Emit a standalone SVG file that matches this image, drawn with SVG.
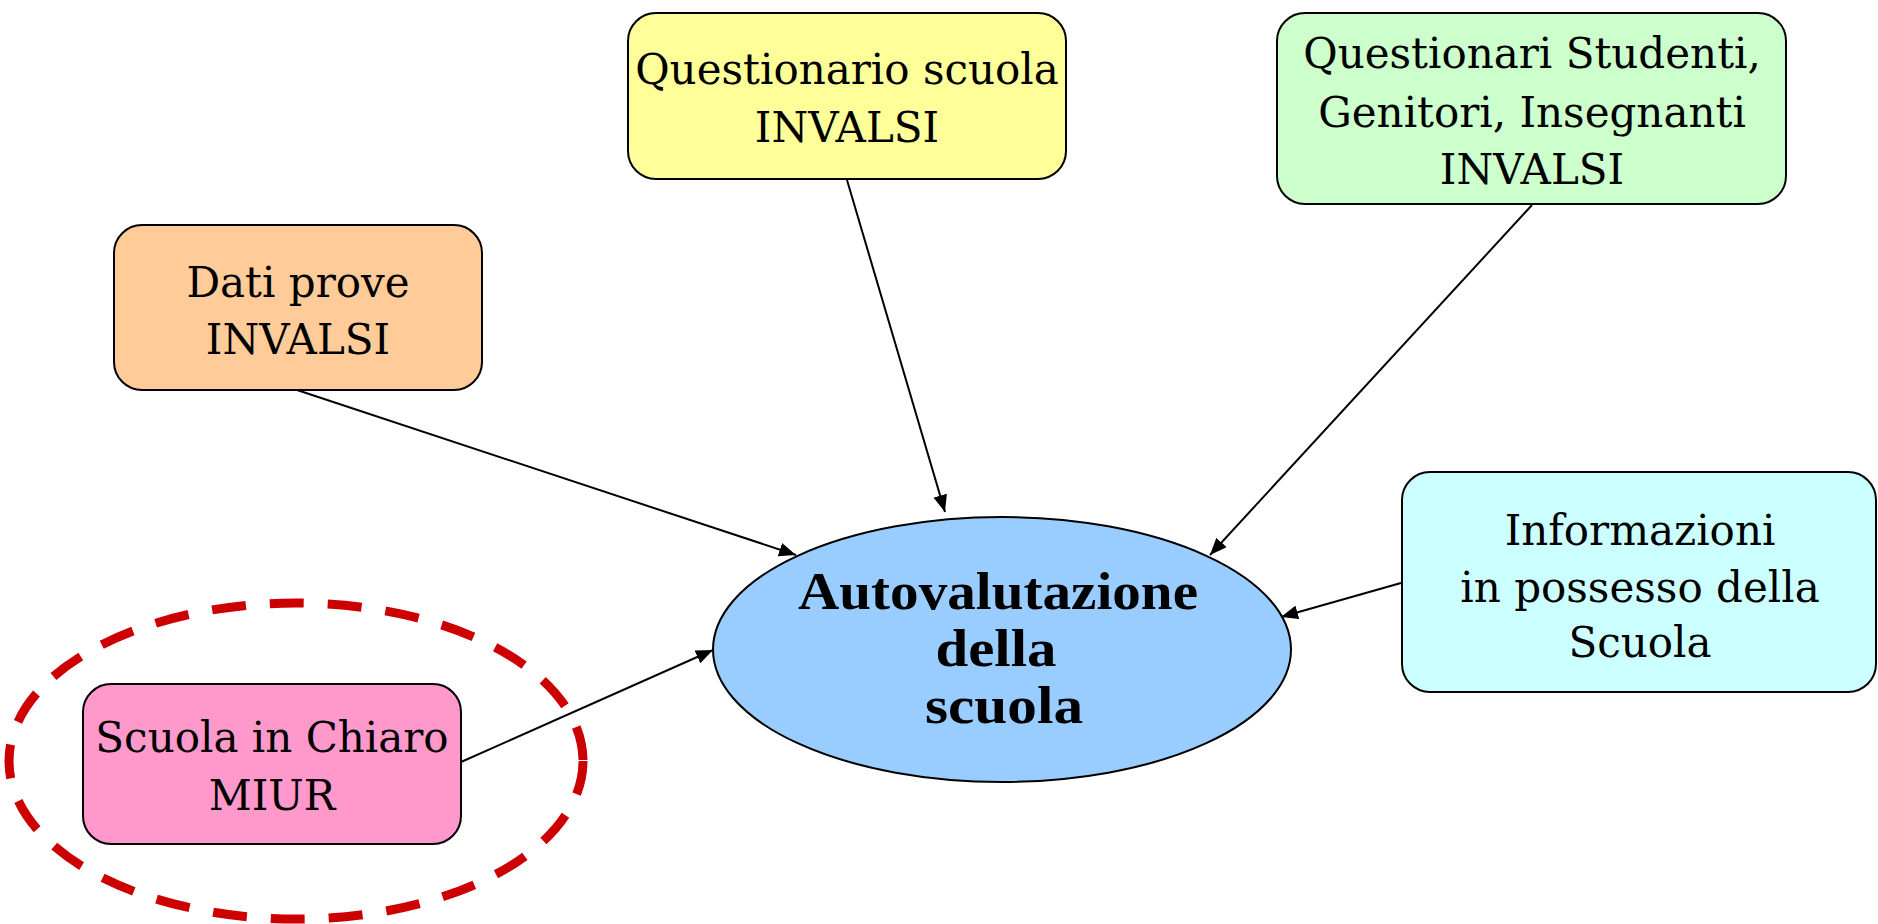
<svg xmlns="http://www.w3.org/2000/svg" width="1878" height="924" viewBox="0 0 1878 924">
<defs>
<style>
.box{stroke:#000;stroke-width:2}
.t{font-family:"DejaVu Serif","Liberation Serif",serif;font-size:42px;fill:#000;text-anchor:middle}
.tb{font-family:"Liberation Serif","Times New Roman",serif;font-size:52px;font-weight:bold;fill:#000;text-anchor:middle}
.conn{stroke:#000;stroke-width:2;fill:none;marker-end:url(#arr)}
</style>
<marker id="arr" markerUnits="userSpaceOnUse" markerWidth="18" markerHeight="14" refX="17" refY="7" orient="auto">
<path d="M0,0 L17,7 L0,14 z" fill="#000"/>
</marker>
</defs>
<rect width="1878" height="924" fill="#fff"/>

<g id="connectors">
<line class="conn" x1="297" y1="390" x2="796" y2="555"/>
<line class="conn" x1="847" y1="180" x2="945" y2="512"/>
<line class="conn" x1="1532" y1="205" x2="1210" y2="555"/>
<line class="conn" x1="1401" y1="583" x2="1281" y2="617"/>
<line class="conn" x1="461" y1="762" x2="713" y2="650"/>
</g>

<g id="highlight">
<ellipse cx="296" cy="761" rx="287" ry="158" fill="none" stroke="#CC0000" stroke-width="9" stroke-dasharray="34 24"/>
</g>

<g id="node-questionario-scuola">
<rect class="box" x="628" y="13" width="438" height="166" rx="28" fill="#FFFF99"/>
<text class="t" x="847" y="84">Questionario scuola</text>
<text class="t" x="847" y="142">INVALSI</text>
</g>

<g id="node-questionari-studenti">
<rect class="box" x="1277" y="13" width="509" height="191" rx="28" fill="#CCFFCC"/>
<text class="t" x="1532" y="68">Questionari Studenti,</text>
<text class="t" x="1532" y="127">Genitori, Insegnanti</text>
<text class="t" x="1532" y="184">INVALSI</text>
</g>

<g id="node-dati-prove">
<rect class="box" x="114" y="225" width="368" height="165" rx="28" fill="#FFCC99"/>
<text class="t" x="298" y="297">Dati prove</text>
<text class="t" x="298" y="354">INVALSI</text>
</g>

<g id="node-informazioni">
<rect class="box" x="1402" y="472" width="474" height="220" rx="28" fill="#CCFFFF"/>
<text class="t" x="1640" y="545">Informazioni</text>
<text class="t" x="1640" y="602">in possesso della</text>
<text class="t" x="1640" y="657">Scuola</text>
</g>

<g id="node-scuola-in-chiaro">
<rect class="box" x="83" y="684" width="378" height="160" rx="28" fill="#FF99CC"/>
<text class="t" x="272" y="752">Scuola in Chiaro</text>
<text class="t" x="272" y="810">MIUR</text>
</g>

<g id="node-autovalutazione">
<ellipse cx="1002" cy="649.5" rx="289" ry="132.5" fill="#99CCFF" stroke="#000" stroke-width="2"/>
<text class="tb" x="998" y="609" textLength="400" lengthAdjust="spacingAndGlyphs">Autovalutazione</text>
<text class="tb" x="996" y="666" textLength="121" lengthAdjust="spacingAndGlyphs">della</text>
<text class="tb" x="1004" y="723" textLength="158" lengthAdjust="spacingAndGlyphs">scuola</text>
</g>
</svg>
